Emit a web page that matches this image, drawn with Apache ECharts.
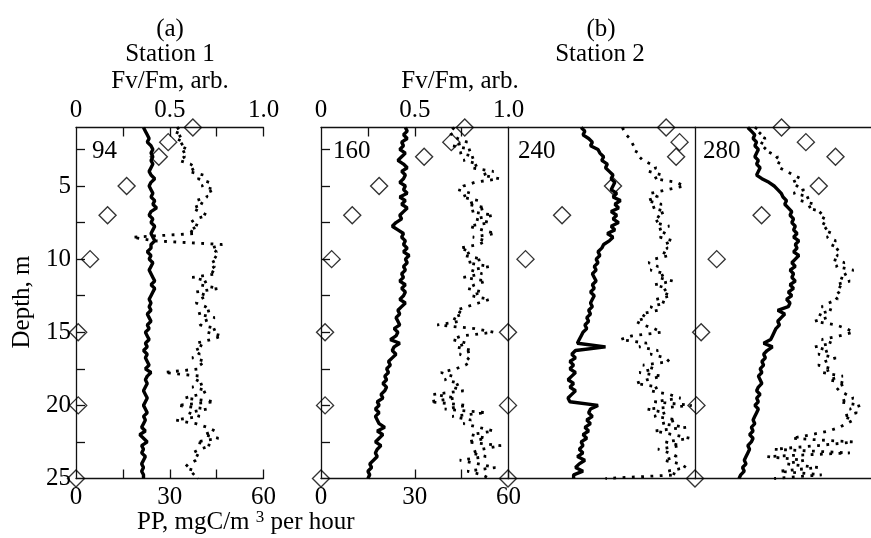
<!DOCTYPE html>
<html>
<head>
<meta charset="utf-8">
<script src="https://cdn.jsdelivr.net/npm/echarts@6/dist/echarts.min.js"></script>
<style>html,body{margin:0;padding:0;background:#fff}#c{width:871px;height:538px}</style>
</head>
<body>
<div id="c"></div>
<script>
// Depth sampling grid for the continuous profiles (m)
const depthStart = 1, depthStep = 0.25, depthCount = 97;
// Discrete PP sampling depths (m)
const ppDepths = [1, 2, 3, 5, 7, 10, 15, 20, 25];
// Panel labels
const panelNames = ['94', '160', '240', '280'];
const fvTicks = ['0', '0.5', '1.0'];
const ppTicks = ['0', '30', '60'];
const depthTicks = ['5', '10', '15', '20', '25'];

// Station 1, 94 : solid profile (Fv/Fm axis)
const solid94 = [0.36,0.37,0.38,0.39,0.38,0.40,0.41,0.40,0.41,
 0.40,0.41,0.40,0.39,0.40,0.42,0.40,0.39,
 0.40,0.41,0.40,0.42,0.41,0.43,0.40,0.39,
 0.41,0.40,0.42,0.41,0.40,0.41,0.42,0.40,
 0.40,0.38,0.40,0.39,0.41,0.40,0.39,0.40,
 0.41,0.42,0.40,0.42,0.41,0.40,0.39,0.40,
 0.39,0.40,0.38,0.39,0.40,0.38,0.39,0.37,
 0.38,0.39,0.37,0.38,0.36,0.38,0.37,0.38,
 0.39,0.37,0.40,0.38,0.37,0.38,0.37,0.36,
 0.37,0.38,0.37,0.36,0.37,0.38,0.36,0.37,
 0.36,0.35,0.37,0.34,0.36,0.38,0.35,0.36,
 0.35,0.37,0.36,0.35,0.36,0.35,0.36,0.36];
const dotted94 = [0.55,0.52,0.57,0.53,0.58,0.55,0.60,0.56,0.58,
 0.55,0.61,0.64,0.60,0.68,0.65,0.71,0.67,
 0.74,0.69,0.70,0.64,0.68,0.62,0.66,0.70,
 0.64,0.61,0.66,0.60,0.64,0.30,0.42,0.78,
 0.72,0.75,0.73,0.76,0.72,0.74,0.71,0.75,
 0.62,0.70,0.66,0.76,0.64,0.70,0.66,0.64,
 0.69,0.72,0.65,0.74,0.68,0.66,0.75,0.70,
 0.78,0.72,0.64,0.68,0.63,0.66,0.62,0.69,
 0.66,0.66,0.47,0.66,0.64,0.68,0.62,0.70,
 0.66,0.58,0.74,0.54,0.70,0.60,0.66,0.53,
 0.64,0.70,0.74,0.68,0.76,0.64,0.72,0.66,
 0.62,0.66,0.64,0.60,0.58,0.64,0.62,0.65];
const pp94 = [37.4, 29.5, 26.5, 16.2, 10.1, 4.5, 0.7, 0.7, 0];

// Station 2, 160
const solid160 = [0.45,0.46,0.44,0.46,0.43,0.44,0.42,0.45,0.43,
 0.41,0.44,0.46,0.43,0.45,0.44,0.42,0.45,
 0.44,0.46,0.42,0.45,0.43,0.46,0.44,0.42,
 0.43,0.40,0.38,0.41,0.44,0.43,0.45,0.44,
 0.46,0.44,0.47,0.45,0.46,0.44,0.45,0.43,
 0.44,0.42,0.45,0.43,0.45,0.44,0.42,0.45,
 0.43,0.41,0.42,0.40,0.41,0.42,0.39,0.41,
 0.40,0.37,0.42,0.39,0.38,0.40,0.38,0.36,
 0.37,0.35,0.36,0.34,0.35,0.33,0.35,0.34,
 0.32,0.33,0.30,0.31,0.29,0.31,0.29,0.30,
 0.31,0.34,0.30,0.33,0.31,0.29,0.32,0.30,
 0.29,0.30,0.28,0.26,0.27,0.25,0.26,0.25];
const dotted160 = [0.70,0.72,0.69,0.73,0.78,0.70,0.80,0.74,0.82,
 0.76,0.84,0.80,0.92,0.86,0.95,0.82,0.76,
 0.73,0.80,0.75,0.84,0.78,0.88,0.80,0.92,
 0.82,0.90,0.79,0.86,0.93,0.81,0.88,0.84,
 0.74,0.80,0.76,0.86,0.78,0.90,0.80,0.86,
 0.76,0.88,0.82,0.78,0.86,0.80,0.90,0.84,
 0.78,0.72,0.76,0.70,0.74,0.62,0.82,0.92,
 0.75,0.70,0.78,0.72,0.81,0.74,0.78,0.80,
 0.77,0.72,0.64,0.70,0.66,0.74,0.70,0.76,
 0.60,0.72,0.58,0.78,0.66,0.88,0.70,0.80,
 0.76,0.84,0.92,0.80,0.88,0.78,0.96,0.86,
 0.80,0.88,0.74,0.84,0.93,0.78,0.86,0.90];
const pp160 = [46, 41.7, 33, 18.6, 10, 3.4, 1.3, 1.3, 0];

// Station 2, 240
const solid240 = [0.39,0.41,0.40,0.43,0.45,0.44,0.48,0.49,0.51,
 0.50,0.53,0.52,0.54,0.56,0.55,0.57,0.56,
 0.55,0.58,0.56,0.60,0.57,0.59,0.55,0.58,
 0.56,0.59,0.55,0.57,0.53,0.56,0.54,0.51,
 0.50,0.48,0.49,0.47,0.48,0.46,0.47,0.45,
 0.46,0.47,0.45,0.46,0.44,0.46,0.45,0.44,
 0.45,0.43,0.44,0.42,0.43,0.41,0.42,0.40,
 0.39,0.38,0.37,0.52,0.36,0.34,0.36,0.33,
 0.35,0.33,0.36,0.34,0.32,0.35,0.33,0.36,
 0.34,0.32,0.33,0.48,0.44,0.43,0.45,0.42,
 0.44,0.41,0.43,0.40,0.42,0.39,0.40,0.38,
 0.40,0.37,0.41,0.38,0.36,0.40,0.35,0.35];
const dotted240 = [0.61,0.62,0.63,0.65,0.66,0.67,0.69,0.68,0.70,
 0.72,0.76,0.79,0.75,0.82,0.78,0.90,0.94,
 0.85,0.76,0.80,0.74,0.82,0.77,0.84,0.79,
 0.82,0.78,0.86,0.80,0.84,0.81,0.88,0.83,
 0.85,0.82,0.86,0.78,0.75,0.80,0.76,0.84,
 0.80,0.88,0.78,0.85,0.82,0.87,0.79,0.84,
 0.76,0.80,0.71,0.74,0.68,0.72,0.78,0.82,
 0.66,0.60,0.74,0.70,0.80,0.76,0.84,0.86,
 0.72,0.78,0.70,0.82,0.74,0.68,0.80,0.76,
 0.86,0.92,0.78,0.98,0.74,0.84,0.78,0.90,
 0.82,0.95,0.78,0.88,0.97,0.84,0.92,0.80,
 0.86,0.90,0.83,0.92,0.95,0.85,0.90,0.52];
const pp240 = [50.6, 54.9, 53.8, 33.6, 17.3, 5.6, 0, 0, 0];

// Station 2, 280
const solid280 = [0.30,0.32,0.34,0.33,0.35,0.34,0.36,0.35,0.34,
 0.36,0.35,0.37,0.36,0.35,0.38,0.42,0.45,
 0.47,0.49,0.50,0.52,0.51,0.53,0.55,0.54,
 0.56,0.55,0.57,0.56,0.58,0.56,0.59,0.57,
 0.58,0.56,0.59,0.57,0.55,0.57,0.54,0.56,
 0.55,0.57,0.54,0.56,0.53,0.55,0.52,0.54,
 0.53,0.47,0.51,0.49,0.47,0.48,0.46,0.45,
 0.44,0.43,0.39,0.44,0.41,0.39,0.40,0.38,
 0.39,0.37,0.38,0.36,0.37,0.38,0.36,0.35,
 0.37,0.35,0.36,0.34,0.36,0.35,0.34,0.33,
 0.34,0.32,0.33,0.31,0.33,0.32,0.30,0.31,
 0.30,0.29,0.28,0.29,0.27,0.28,0.26,0.25];
const dotted280 = [0.34,0.38,0.36,0.40,0.37,0.41,0.39,0.43,0.47,
 0.45,0.49,0.48,0.52,0.56,0.60,0.55,0.58,
 0.62,0.56,0.65,0.60,0.68,0.64,0.72,0.70,
 0.74,0.72,0.76,0.73,0.78,0.75,0.80,0.77,
 0.82,0.79,0.81,0.78,0.85,0.80,0.90,0.86,
 0.82,0.88,0.80,0.84,0.82,0.79,0.81,0.76,
 0.72,0.78,0.70,0.75,0.68,0.80,0.86,0.90,
 0.82,0.72,0.78,0.68,0.76,0.70,0.80,0.74,
 0.70,0.78,0.72,0.84,0.76,0.86,0.80,0.82,
 0.86,0.90,0.82,0.94,0.88,0.92,0.84,0.90,
 0.86,0.82,0.76,0.66,0.55,0.90,0.70,0.45,
 0.88,0.41,0.62,0.52,0.70,0.48,0.72,0.45];
const pp280 = [29.5, 37.8, 47.9, 42.2, 22.7, 7.4, 2.1, 0.5, 0];

const solids = [solid94, solid160, solid240, solid280];
const dots = [dotted94, dotted160, dotted240, dotted280];
const pps = [pp94, pp160, pp240, pp280];

const depths = [];
for (let i = 0; i < depthCount; i++) depths.push(depthStart + i * depthStep);

const FONT = '"Liberation Serif", "DejaVu Serif", serif';
const FS = 25;
const gridLefts = [76, 321, 508, 695];
const gridW = 187.5;
const axisColor = '#111';

const grid = [], xAxis = [], yAxis = [], series = [];
for (let p = 0; p < 4; p++) {
  grid.push({left: gridLefts[p], top: 127.5, width: gridW, height: 351, containLabel: false});
  const showLab = p < 2;
  // top Fv/Fm axis
  xAxis.push({
    gridIndex: p, type: 'value', position: 'top', min: 0, max: 1,
    axisLine: {show: true, lineStyle: {color: axisColor, width: 1.3}},
    axisTick: {show: showLab, inside: true, length: 9, lineStyle: {color: axisColor, width: 1.3},
      customValues: p === 0 ? [0.25, 0.5, 0.75, 1] : [0.25, 0.5, 0.75]},
    axisLabel: {show: showLab, customValues: [0, 0.5, 1], margin: 5,
      formatter: v => v === 0 ? fvTicks[0] : (v === 0.5 ? fvTicks[1] : fvTicks[2]),
      fontFamily: FONT, fontSize: FS, color: '#000'},
    splitLine: {show: false}
  });
  // bottom PP axis
  xAxis.push({
    gridIndex: p, type: 'value', position: 'bottom', min: 0, max: 60,
    axisLine: {show: true, lineStyle: {color: axisColor, width: 1.3}},
    axisTick: {show: showLab, inside: true, length: 9, lineStyle: {color: axisColor, width: 1.3},
      customValues: [15, 30, 45, 60]},
    axisLabel: {show: showLab, customValues: [0, 30, 60], margin: 6,
      formatter: v => v === 0 ? ppTicks[0] : (v === 30 ? ppTicks[1] : ppTicks[2]),
      fontFamily: FONT, fontSize: FS, color: '#000'},
    splitLine: {show: false}
  });
  yAxis.push({
    gridIndex: p, type: 'value', inverse: true, min: 1, max: 25,
    axisLine: {show: true, lineStyle: {color: axisColor, width: 1.3}},
    axisTick: {show: p < 2, inside: true, length: 9, lineStyle: {color: axisColor, width: 1.3},
      customValues: [2.5, 5, 7.5, 10, 12.5, 15, 17.5, 20, 22.5]},
    axisLabel: {show: p === 0, customValues: [5, 10, 15, 20, 25], margin: 5,
      formatter: v => depthTicks[[5, 10, 15, 20, 25].indexOf(v)],
      fontFamily: FONT, fontSize: FS, color: '#000'},
    splitLine: {show: false}
  });
  series.push({
    type: 'line', xAxisIndex: 2 * p, yAxisIndex: p, showSymbol: false, symbol: 'none',
    data: depths.map((d, k) => [dots[p][k], d]),
    lineStyle: {color: '#000', width: 2.8, type: [2.8, 6.5], cap: 'butt'},
    clip: false, z: 2
  });
  series.push({
    type: 'line', xAxisIndex: 2 * p, yAxisIndex: p, showSymbol: false, symbol: 'none',
    data: depths.map((d, k) => [solids[p][k], d]),
    lineStyle: {color: '#000', width: 3.4}, clip: false, z: 3
  });
  series.push({
    type: 'scatter', xAxisIndex: 2 * p + 1, yAxisIndex: p, symbol: 'diamond', symbolSize: 17,
    data: ppDepths.map((d, k) => [pps[p][k], d]),
    itemStyle: {color: 'rgba(0,0,0,0)', borderColor: '#000', borderWidth: 1.4},
    clip: false, z: 4
  });
}

function txt(text, x, y, align, extra) {
  return Object.assign({
    type: 'text', x: x, y: y, z: 10,
    style: {text: text, fontFamily: FONT, fontSize: FS, fill: '#000',
      align: align || 'center', verticalAlign: 'middle',
      textAlign: align || 'center', textVerticalAlign: 'middle'}
  }, extra || {});
}

const graphics = [
  txt('(a)', 170, 29),
  txt('Station 1', 170, 54),
  txt('Fv/Fm, arb.', 170, 81),
  txt('(b)', 601, 29),
  txt('Station 2', 600, 54),
  txt('Fv/Fm, arb.', 460, 81),
  txt(panelNames[0], 92, 151, 'left'),
  txt(panelNames[1], 333, 151, 'left'),
  txt(panelNames[2], 518, 151, 'left'),
  txt(panelNames[3], 703, 151, 'left'),
  txt('Depth, m', 22, 302, 'center', {rotation: Math.PI / 2}),
  {
    type: 'text', x: 137, y: 522, z: 10,
    style: {
      text: '{a|PP, mgC/m }{s|3}{a| per hour}',
      align: 'left', verticalAlign: 'middle', textAlign: 'left', textVerticalAlign: 'middle',
      fill: '#000',
      rich: {
        a: {fontFamily: FONT, fontSize: FS, lineHeight: 26, fill: '#000', color: '#000'},
        s: {fontFamily: FONT, fontSize: 17, lineHeight: 26, verticalAlign: 'top', fill: '#000', color: '#000'}
      }
    }
  }
];

const chart = echarts.init(document.getElementById('c'), null, {renderer: 'canvas'});
chart.setOption({
  animation: false,
  backgroundColor: '#fff',
  grid: grid, xAxis: xAxis, yAxis: yAxis, series: series,
  graphic: graphics
});
</script>
</body>
</html>
